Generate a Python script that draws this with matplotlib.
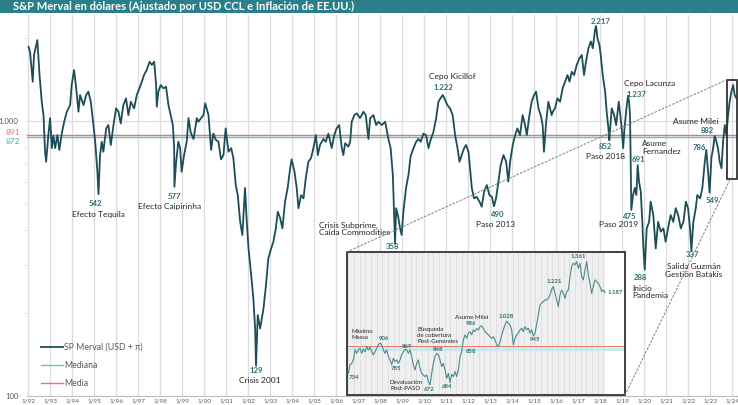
import matplotlib
matplotlib.use('Agg')
import matplotlib.pyplot as plt
import matplotlib.transforms as mtransforms
from matplotlib.patches import Rectangle, ConnectionPatch
from matplotlib.ticker import FixedLocator, NullFormatter
import numpy as np

plt.rcParams['font.family'] = ['Lato', 'DejaVu Sans']

# ─── Data: S&P Merval in USD (CCL, adjusted by US inflation) ───
MERVAL_YEAR = [
    1992.02, 1992.09, 1992.21, 1992.27, 1992.42, 1992.52, 1992.62, 1992.70, 1992.77, 1992.82,
    1992.92, 1993.00, 1993.08, 1993.15, 1993.23, 1993.33, 1993.42, 1993.53, 1993.64, 1993.76,
    1993.91, 1993.98, 1994.09, 1994.18, 1994.29, 1994.36, 1994.52, 1994.64, 1994.74, 1994.85,
    1994.97, 1995.05, 1995.15, 1995.20, 1995.27, 1995.35, 1995.42, 1995.55, 1995.65, 1995.76,
    1995.88, 1996.00, 1996.11, 1996.21, 1996.33, 1996.45, 1996.56, 1996.67, 1996.82, 1996.94,
    1997.06, 1997.17, 1997.27, 1997.39, 1997.52, 1997.62, 1997.73, 1997.82, 1997.85, 1997.92,
    1998.03, 1998.15, 1998.27, 1998.38, 1998.48, 1998.58, 1998.64, 1998.65, 1998.73, 1998.83,
    1998.91, 1998.98, 1999.09, 1999.21, 1999.29, 1999.39, 1999.52, 1999.67, 1999.74, 1999.97,
    2000.05, 2000.20, 2000.27, 2000.32, 2000.42, 2000.53, 2000.65, 2000.77, 2000.88, 2000.98,
    2001.11, 2001.23, 2001.33, 2001.44, 2001.53, 2001.64, 2001.74, 2001.86, 2001.94, 2002.02,
    2002.14, 2002.24, 2002.32, 2002.36, 2002.44, 2002.55, 2002.70, 2002.80, 2002.92, 2003.05,
    2003.15, 2003.26, 2003.35, 2003.45, 2003.56, 2003.68, 2003.80, 2003.91, 2003.98, 2004.11,
    2004.21, 2004.29, 2004.41, 2004.52, 2004.62, 2004.74, 2004.86, 2004.97, 2005.08, 2005.17,
    2005.27, 2005.42, 2005.53, 2005.65, 2005.80, 2005.92, 2006.02, 2006.14, 2006.26, 2006.33,
    2006.41, 2006.56, 2006.64, 2006.71, 2006.83, 2006.94, 2007.09, 2007.24, 2007.35, 2007.47,
    2007.55, 2007.70, 2007.82, 2007.92, 2008.08, 2008.23, 2008.38, 2008.48, 2008.58, 2008.64,
    2008.68, 2008.73, 2008.83, 2008.91, 2008.98, 2009.06, 2009.18, 2009.29, 2009.39, 2009.52,
    2009.64, 2009.74, 2009.85, 2009.97, 2010.09, 2010.20, 2010.30, 2010.42, 2010.55, 2010.65,
    2010.76, 2010.85, 2010.95, 2011.06, 2011.18, 2011.30, 2011.41, 2011.52, 2011.61, 2011.71,
    2011.82, 2011.91, 2012.02, 2012.09, 2012.17, 2012.27, 2012.39, 2012.52, 2012.62, 2012.73,
    2012.85, 2012.97, 2013.08, 2013.18, 2013.27, 2013.38, 2013.48, 2013.61, 2013.73, 2013.83,
    2013.91, 2014.03, 2014.14, 2014.24, 2014.36, 2014.48, 2014.59, 2014.67, 2014.79, 2014.89,
    2015.00, 2015.09, 2015.20, 2015.30, 2015.39, 2015.45, 2015.55, 2015.65, 2015.80, 2015.85,
    2015.95, 2016.06, 2016.18, 2016.30, 2016.41, 2016.52, 2016.61, 2016.71, 2016.82, 2016.94,
    2017.06, 2017.17, 2017.27, 2017.36, 2017.47, 2017.58, 2017.67, 2017.77, 2017.82, 2017.88,
    2017.97, 2018.03, 2018.12, 2018.23, 2018.30, 2018.38, 2018.42, 2018.53, 2018.64, 2018.73,
    2018.85, 2018.92, 2019.00, 2019.05, 2019.11, 2019.20, 2019.27, 2019.32, 2019.36, 2019.39,
    2019.42, 2019.50, 2019.58, 2019.65, 2019.71, 2019.77, 2019.85, 2019.92, 2019.97, 2020.03,
    2020.12, 2020.23, 2020.30, 2020.42, 2020.53, 2020.64, 2020.76, 2020.88, 2020.98, 2021.09,
    2021.21, 2021.33, 2021.44, 2021.55, 2021.67, 2021.79, 2021.90, 2022.00, 2022.09, 2022.15,
    2022.24, 2022.35, 2022.42, 2022.55, 2022.65, 2022.76, 2022.83, 2022.91, 2022.98, 2023.06,
    2023.14, 2023.21, 2023.29, 2023.36, 2023.44, 2023.52, 2023.59, 2023.67, 2023.74, 2023.82,
    2023.89, 2023.97, 2024.05, 2024.12, 2024.20,
]
MERVAL_USD = [
    1862, 1780, 1390, 1738, 1970, 1470, 1175, 1051, 773, 711,
    889, 1025, 797, 885, 797, 889, 785, 900, 994, 1081,
    1143, 1352, 1532, 1330, 1081, 1243, 1143, 1243, 1279, 1175,
    967, 841, 654, 542, 752, 841, 773, 940, 967, 818,
    967, 1112, 1081, 980, 1143, 1209, 1051, 1175, 1112, 1243,
    1315, 1390, 1470, 1532, 1643, 1600, 1643, 1352, 1128, 1279,
    1352, 1315, 1333, 1143, 1051, 967, 797, 577, 711, 841,
    797, 654, 752, 841, 1025, 910, 860, 1025, 994, 1051,
    1160, 1051, 889, 785, 900, 855, 841, 725, 752, 940,
    773, 797, 733, 585, 538, 430, 385, 571, 430, 344,
    275, 226, 176, 129, 197, 176, 208, 247, 317, 344,
    364, 407, 468, 446, 407, 509, 571, 673, 725, 654,
    571, 482, 538, 523, 619, 711, 733, 797, 889, 752,
    818, 860, 841, 900, 797, 889, 940, 967, 797, 752,
    830, 807, 841, 994, 1051, 1066, 1025, 1081, 1051, 860,
    1025, 1051, 967, 994, 967, 994, 860, 797, 637, 455,
    358, 482, 446, 407, 385, 468, 571, 637, 746, 797,
    841, 860, 841, 900, 889, 797, 855, 910, 1025, 1175,
    1216, 1243, 1196, 1143, 1112, 1051, 889, 797, 711, 752,
    797, 818, 773, 673, 571, 523, 530, 509, 488, 554,
    585, 538, 530, 490, 523, 602, 690, 752, 711, 602,
    711, 818, 889, 940, 889, 1051, 967, 889, 1051, 1175,
    1243, 1279, 1112, 1051, 967, 773, 994, 1175, 1051, 1081,
    1112, 1209, 1175, 1315, 1390, 1470, 1390, 1510, 1470, 1600,
    1690, 1738, 1470, 1643, 1840, 1947, 1840, 2142, 2217, 2000,
    1893, 1738, 1470, 1279, 1081, 940, 852, 1112, 1051, 967,
    1175, 1051, 910, 797, 940, 1112, 1237, 1175, 1051, 732,
    475, 538, 571, 538, 691, 602, 554, 430, 344, 288,
    407, 430, 509, 455, 344, 430, 396, 407, 364, 407,
    455, 430, 482, 455, 407, 430, 509, 482, 407, 337,
    430, 482, 538, 523, 571, 711, 786, 654, 549, 733,
    797, 882, 841, 797, 711, 673, 841, 967, 889, 1051,
    1175, 1279, 1352, 1243, 1209,
]
MEDIA = 891
MEDIANA = 872

# daily detail of the last months (inset)
INSET_VALUES = [
    736, 783, 792, 811, 867, 848, 867, 876, 848, 871,
    857, 885, 867, 882, 857, 839, 857, 876, 895, 906,
    895, 867, 848, 867, 830, 811, 785, 820, 802, 811,
    792, 811, 839, 857, 869, 867, 848, 867, 830, 783,
    755, 792, 811, 764, 736, 727, 718, 727, 690, 672,
    736, 792, 830, 848, 840, 811, 774, 792, 755, 708,
    736, 684, 730, 718, 746, 718, 755, 830, 858, 923,
    951, 932, 960, 969, 951, 979, 969, 986, 979, 997,
    1001, 988, 969, 960, 951, 941, 932, 941, 923, 895,
    885, 913, 951, 979, 1007, 1028, 1016, 1007, 979, 895,
    932, 951, 960, 979, 988, 969, 997, 979, 988, 960,
    979, 945, 960, 1010, 1062, 1118, 1128, 1137, 1146, 1146,
    1155, 1174, 1205, 1221, 1183, 1146, 1109, 1174, 1202, 1183,
    1155, 1193, 1202, 1277, 1333, 1351, 1342, 1361, 1323, 1351,
    1277, 1258, 1314, 1360, 1286, 1239, 1183, 1221, 1258, 1249,
    1239, 1221, 1193, 1202, 1187,
]

TICK_YEARS = list(range(1992, 2025))

# ─── Colors ───
LINE = '#1d4e57'
INSET_LINE = '#4a8a90'
RED = '#e8746c'
CYAN = '#5cc5c8'
BAR = '#2b7f8b'
NUM = '#2c6e77'
TXT = '#262626'
GREY = '#595959'
GRID = '#dcdcdc'

W, H = 738, 405
fig = plt.figure(figsize=(W / 100, H / 100), dpi=100)

# title bar
fig.patches.append(Rectangle((0, 1 - 13 / H), 1, 13 / H, transform=fig.transFigure,
                             facecolor=BAR, edgecolor='none', zorder=0))
fig.text(13 / W, 1 - 6.5 / H, 'S&P Merval en dólares (Ajustado por USD CCL e Inflación de EE.UU.)',
         color='white', fontweight='bold', fontsize=8.0, va='center', ha='left')

# ─── Main axes ───
ax = fig.add_axes([27 / W, 9 / H, 711 / W, 381 / H])
ax.set_yscale('log')
ax.set_xlim(1991.95, 2024.27)
ax.set_ylim(100, 2430)

for s in ['top', 'right', 'left']:
    ax.spines[s].set_visible(False)
ax.spines['bottom'].set_color('#bfbfbf')

ax.xaxis.set_major_locator(FixedLocator(TICK_YEARS))
ax.set_xticklabels([f'1/{y % 100:02d}' for y in TICK_YEARS])
ax.tick_params(axis='x', length=0, labelsize=4.6, colors=GREY, pad=2)
ax.set_yticks([100, 1000])
ax.set_yticklabels(['100', '1.000'])
ax.yaxis.set_minor_formatter(NullFormatter())
ax.tick_params(axis='y', which='major', length=0, labelsize=5.6, colors=GREY, pad=6)
ax.tick_params(axis='y', which='minor', length=2, color=GRID)
ax.grid(axis='x', color=GRID, lw=0.9)
ax.grid(axis='y', which='major', color=GRID, lw=0.9)
ax.set_axisbelow(True)

ax.axhline(MEDIA, color=RED, lw=1.0, zorder=2)
ax.axhline(MEDIANA, color=CYAN, lw=1.0, zorder=2)
ax.plot(MERVAL_YEAR, MERVAL_USD, color=LINE, lw=1.3, zorder=3, label='SP Merval (USD + π)')
ax.plot([], [], color=CYAN, lw=1.0, label='Mediana')
ax.plot([], [], color=RED, lw=1.0, label='Media')
ax.legend(loc='lower left', bbox_to_anchor=(0.008, 0.0), frameon=False, fontsize=6.3,
          labelcolor=GREY, handlelength=2.6, handletextpad=0.1, labelspacing=1.05)

# media / mediana labels on the y axis
ytrans = mtransforms.blended_transform_factory(ax.transAxes, ax.transData)
ax.annotate(f'{MEDIA}', xy=(0, MEDIA), xycoords=ytrans, xytext=(-4.5, 1.5),
            textcoords='offset points', ha='right', va='center', fontsize=6, color=RED)
ax.annotate(f'{MEDIANA}', xy=(0, MEDIANA), xycoords=ytrans, xytext=(-4.5, -3),
            textcoords='offset points', ha='right', va='center', fontsize=6, color='#3fb3b8')

# event labels (numbers bold, descriptions regular)
main_labels = [
    ('542', 1995.05, 503, 'num', 'center'),
    ('Efecto Tequila', 1995.18, 459, 'txt', 'center'),
    ('577', 1998.64, 533, 'num', 'center'),
    ('Efecto Caipirinha', 1998.45, 487, 'txt', 'center'),
    ('129', 2002.36, 124, 'num', 'center'),
    ('Crisis 2001', 2002.55, 113.5, 'txt', 'center'),
    ('Crisis Subprime,\nCaída Commodities', 2005.23, 405, 'txt', 'left'),
    ('358', 2008.55, 351, 'num', 'center'),
    ('Cepo Kicillof', 2011.27, 1458, 'txt', 'center'),
    ('1.222', 2010.86, 1329, 'num', 'center'),
    ('490', 2013.36, 459, 'num', 'center'),
    ('Paso 2013', 2013.27, 422, 'txt', 'center'),
    ('2.217', 2018.05, 2310, 'num', 'center'),
    ('Cepo Lacunza', 2020.27, 1375, 'txt', 'center'),
    ('1.237', 2019.64, 1254, 'num', 'center'),
    ('852', 2018.23, 811, 'num', 'center'),
    ('Paso 2018', 2018.23, 746, 'txt', 'center'),
    ('Asume\nFernandez', 2019.91, 801, 'txt', 'left'),
    ('691', 2019.73, 727, 'num', 'center'),
    ('475', 2019.36, 448, 'num', 'center'),
    ('Paso 2019', 2018.82, 419, 'txt', 'center'),
    ('288', 2019.82, 269, 'num', 'center'),
    ('Inicio\nPandemia', 2019.45, 239, 'txt', 'left'),
    ('337', 2022.18, 326, 'num', 'center'),
    ('Salida Guzmán\nGestión Batakis', 2022.27, 285, 'txt', 'center'),
    ('786', 2022.5, 804, 'num', 'center'),
    ('549', 2023.09, 516, 'num', 'center'),
    ('Asume Milei', 2022.36, 992, 'txt', 'center'),
    ('882', 2022.86, 920, 'num', 'center'),
]
for text, x, y, kind, ha in main_labels:
    if kind == 'num':
        ax.text(x, y, text, ha=ha, va='center', fontsize=5.6, fontweight='bold', color=NUM, zorder=5)
    else:
        ax.text(x, y, text, ha=ha, va='center', fontsize=6.0, color=TXT, linespacing=1.15, zorder=5)

# zoom box on the last months
box_x0, box_x1 = 2023.77, 2024.23
box_y0, box_y1 = 615, 1414
ax.add_patch(Rectangle((box_x0, box_y0), box_x1 - box_x0, box_y1 - box_y0,
                       fill=False, edgecolor='#333333', lw=1.3, zorder=6))

# ─── Inset ───
ins = fig.add_axes([346.7 / W, 10 / H, 278.3 / W, 143 / H])
n = len(INSET_VALUES)
idx = np.arange(n)
ins.set_xlim(-1, 166)
ins.set_ylim(box_y0, box_y1)
ins.set_xticks([])
ins.set_yticks([])
ins.set_facecolor('white')
for s in ins.spines.values():
    s.set_color('#404040')
    s.set_linewidth(1.4)
ins.axvspan(-1, n - 1, color='#efefef', lw=0, zorder=0)
for gx in np.arange(0, n, 3.4):
    ins.axvline(gx, color='#dadada', lw=0.5, zorder=0.5)
ins.axhline(MEDIANA, color='#cde8ea', lw=2.2, zorder=1)
ins.axhline(MEDIA, color=RED, lw=0.7, zorder=1.5)
ins.plot(idx, INSET_VALUES, color=INSET_LINE, lw=0.8, zorder=3)

inset_labels = [
    ('734', 0, 712, 'num', 'left'),
    ('Máximo\nMassa', 2, 954, 'txt', 'left'),
    ('906', 21.5, 932, 'num', 'center'),
    ('869', 35, 885, 'num', 'center'),
    ('785', 28.4, 764, 'num', 'center'),
    ('Devaluación\nPost-PASO', 34.6, 666, 'txt', 'center'),
    ('672', 48.6, 643, 'num', 'center'),
    ('684', 59.4, 662, 'num', 'center'),
    ('Búsqueda\nde cobertura\nPost-Generales', 41.4, 949, 'txt', 'left'),
    ('848', 53.6, 871, 'num', 'center'),
    ('858', 73.4, 857, 'num', 'center'),
    ('Asume Milei', 74, 1047, 'txt', 'center'),
    ('986', 73.4, 1012, 'num', 'center'),
    ('1.028', 94.8, 1053, 'num', 'center'),
    ('945', 112, 926, 'num', 'center'),
    ('1.221', 123.6, 1249, 'num', 'center'),
    ('1.361', 137.8, 1388, 'num', 'center'),
    ('1.187', 160, 1187, 'num', 'center'),
]
for text, x, y, kind, ha in inset_labels:
    if kind == 'num':
        ins.text(x, y, text, ha=ha, va='center', fontsize=4.3, fontweight='bold', color=NUM, zorder=5)
    else:
        ins.text(x, y, text, ha=ha, va='center', fontsize=4.4, color=TXT, linespacing=1.2, zorder=5)

# dotted connectors between box and inset
for xa, ya, xb, yb in [(0, 1, box_x0, box_y1), (1, 0, box_x0 + 0.15, box_y0)]:
    con = ConnectionPatch(xyA=(xa, ya), coordsA=ins.transAxes, xyB=(xb, yb), coordsB=ax.transData,
                          linestyle=(0, (2, 2)), color='#808080', lw=0.7, zorder=1)
    fig.add_artist(con)

fig.savefig('out.png', dpi=100)
